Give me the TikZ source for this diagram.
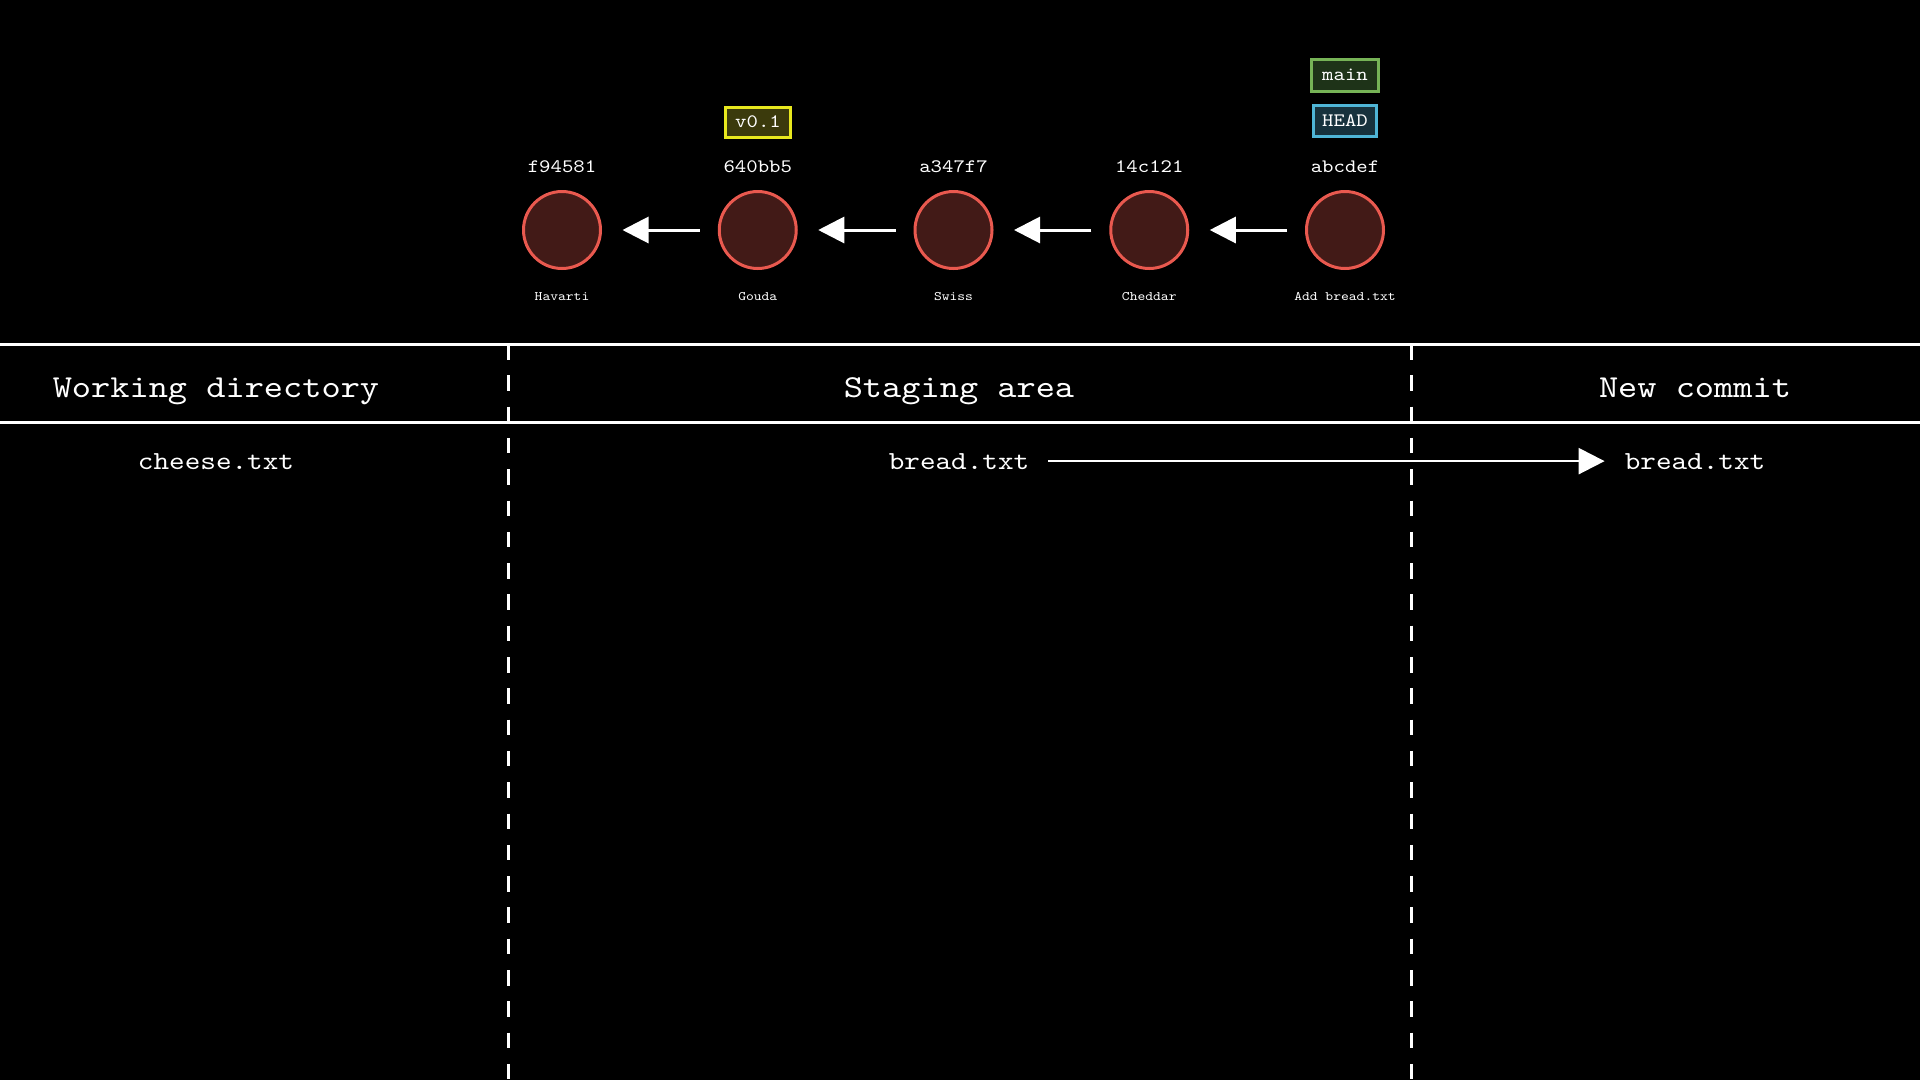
\documentclass[tikz,border=0pt]{standalone}
\usepackage{fontspec}
\setmainfont[FakeStretch=1.143]{lmmono10-regular.otf}
\usetikzlibrary{arrows.meta}
\definecolor{cfill}{HTML}{421A17}
\definecolor{cdraw}{HTML}{E9594F}
\definecolor{yb}{HTML}{E8E81E}
\definecolor{yf}{HTML}{3B3A0C}
\definecolor{gb}{HTML}{76B356}
\definecolor{gf}{HTML}{1E3318}
\definecolor{bb}{HTML}{4FB5D6}
\definecolor{bf}{HTML}{17323D}
\tikzset{
  commit/.style={circle, draw=cdraw, fill=cfill, line width=3pt, minimum size=77pt, inner sep=0pt, outer sep=0pt},
  hash/.style={text=white, inner sep=0pt, anchor=base, font=\fontsize{19}{22}\selectfont},
  msg/.style={text=white, inner sep=0pt, anchor=base, font=\fontsize{13}{15}\selectfont},
  header/.style={text=white, inner sep=0pt, anchor=base, font=\fontsize{32}{38}\selectfont},
  file/.style={text=white, inner sep=0pt, anchor=base, font=\fontsize{26}{30}\selectfont},
  refbox/.style={line width=3pt, text=white, inner sep=0pt, outer sep=0pt, font=\fontsize{19}{22}\selectfont},
  parentarrow/.style={draw=white, line width=3pt, -{Triangle[length=26pt,width=26pt]}, shorten <=19.5pt, shorten >=22pt},
  filearrow/.style={draw=white, line width=2.5pt, -{Triangle[length=26pt,width=26pt]}, shorten <=19pt, shorten >=20pt},
  rule/.style={draw=white, line width=3pt},
  divider/.style={draw=white, line width=3pt, dash pattern=on 15.5pt off 15.8pt},
}
\begin{document}
\begin{tikzpicture}[x=1pt, y=-1pt]
\path[fill=black, use as bounding box] (0,0) rectangle (1920,1080);

% commits
\node[commit] (c1) at (562,230) {};
\node[commit] (c2) at (757.75,230) {};
\node[commit] (c3) at (953.5,230) {};
\node[commit] (c4) at (1149.25,230) {};
\node[commit] (c5) at (1345,230) {};

\node[hash] (h1) at (562,172) {f94581};
\node[hash] (h2) at (757.75,172) {640bb5};
\node[hash] (h3) at (953.5,172) {a347f7};
\node[hash] (h4) at (1149.25,172) {14c121};
\node[hash] (h5) at (1345,172) {abcdef};

\node[msg] (m1) at (562,300) {Havarti};
\node[msg] (m2) at (757.75,300) {Gouda};
\node[msg] (m3) at (953.5,300) {Swiss};
\node[msg] (m4) at (1149.25,300) {Cheddar};
\node[msg] (m5) at (1345,300) {Add bread.txt};

\draw[parentarrow] (c2) -- (c1);
\draw[parentarrow] (c3) -- (c2);
\draw[parentarrow] (c4) -- (c3);
\draw[parentarrow] (c5) -- (c4);

% refs
\node[refbox, draw=yb, fill=yf, minimum width=65pt, minimum height=30pt] (tag) at (758,122) {v0.1};
\node[refbox, draw=gb, fill=gf, minimum width=67pt, minimum height=32pt] (main) at (1345,75) {main};
\node[refbox, draw=bb, fill=bf, minimum width=63pt, minimum height=31pt] (head) at (1345,121) {HEAD};

% table
\coordinate (r1l) at (0,344);
\coordinate (r1r) at (1920,344);
\coordinate (r2l) at (0,422);
\coordinate (r2r) at (1920,422);
\draw[rule] (r1l) -- (r1r);
\draw[rule] (r2l) -- (r2r);
\coordinate (d1t) at (508,344);
\coordinate (d1b) at (508,1080);
\coordinate (d2t) at (1411,344);
\coordinate (d2b) at (1411,1080);
\draw[divider] (d1t) -- (d1b);
\draw[divider] (d2t) -- (d2b);

\node[header] (wd) at (216,397) {Working directory};
\node[header] (sa) at (959,397) {Staging area};
\node[header] (nc) at (1695,397) {New commit};

\node[file] (f1) at (216,469) {cheese.txt};
\node[file] (f2) at (959,469) {bread.txt};
\node[file] (f3) at (1695,469) {bread.txt};

\draw[filearrow] (f2) -- (f3);
\end{tikzpicture}
\end{document}
